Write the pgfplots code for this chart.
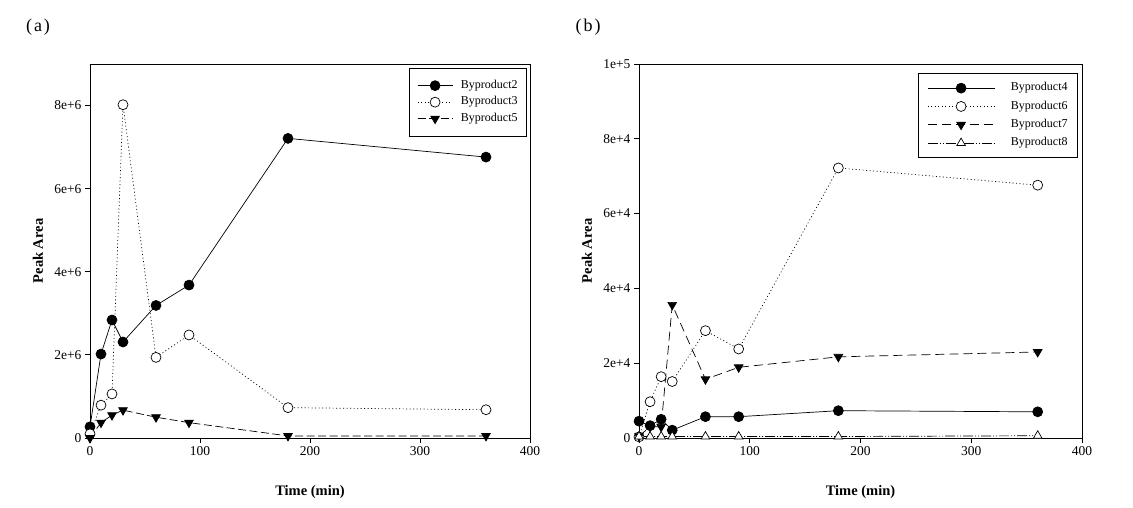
\documentclass[border=0pt]{standalone}
\usepackage{fontspec}
\setmainfont{Liberation Serif}
\usepackage{pgfplots}
\pgfplotsset{compat=1.18}

% common look of both panels
\pgfplotsset{
  panel/.style={
    scale only axis, height=374pt,
    xmin=0, xmax=400, ymin=0,
    axis line style={line width=0.9pt},
    tick align=outside, tick pos=left,
    major tick length=5pt,
    every tick/.style={black, line width=0.9pt},
    xtick={0,100,200,300,400}, xticklabels={0,100,200,300,400},
    tick label style={font=\fontsize{13.5}{15}\selectfont},
    scaled y ticks=false,
    xlabel={\textbf{Time (min)}}, ylabel={\textbf{Peak Area}},
    every axis x label/.style={at={(rel axis cs:0.5,0)}, yshift=-54pt, anchor=center,
      font=\fontsize{14.5}{16}\selectfont},
    every axis y label/.style={at={(rel axis cs:0,0.5)}, xshift=-52pt, rotate=90, anchor=center,
      font=\fontsize{14.5}{16}\selectfont},
    legend cell align=left,
  },
  solidc/.style={black, line width=0.7pt, mark=*, mark size=5pt,
    mark options={solid, fill=black}},
  openc/.style={black, line width=0.7pt, dash pattern=on 1pt off 2.5pt,
    mark=*, mark size=5pt, mark options={solid, fill=white}},
  downtri/.style={black, line width=0.7pt, mark=triangle*, mark size=5pt,
    mark options={solid, fill=black, rotate=180}},
  uptri/.style={black, line width=0.7pt, dash pattern=on 10pt off 2pt on 1pt off 2pt on 1pt off 2pt,
    mark=triangle*, mark size=5pt, mark options={solid, fill=white}},
}

\begin{document}
\begin{tikzpicture}
\useasboundingbox (0,0) rectangle (1133pt,508pt);

\node[font=\fontsize{18}{20}\selectfont] at (38pt,481pt) {(\hspace{2pt}a\hspace{2pt})};
\node[font=\fontsize{18}{20}\selectfont] at (588pt,481pt) {(\hspace{2pt}b\hspace{2pt})};

% ---- (a) ----
\begin{axis}[panel, width=440pt,
    at={(90pt,70pt)}, anchor=south west,
    ymax=9e6,
    ytick={0,2e6,4e6,6e6,8e6}, yticklabels={0,2e+6,4e+6,6e+6,8e+6},
    legend image code/.code={\draw[mark repeat=2,mark phase=2,#1]
      plot coordinates {(0pt,0pt) (17.5pt,0pt) (35pt,0pt)};},
    legend style={at={(rel axis cs:1,1)}, anchor=north east,
      xshift=-3pt, yshift=-4pt, draw=black, line width=0.8pt, fill=white,
      font=\fontsize{12}{14}\selectfont, inner xsep=8pt, inner ysep=11pt,
      row sep=4pt, column sep=7pt,
      nodes={inner sep=1pt, text height=8pt, text depth=2.5pt}},
]
\addplot[solidc] coordinates {
  (0,0.27e6) (10,2.02e6) (20,2.84e6) (30,2.31e6) (60,3.19e6) (90,3.68e6) (180,7.21e6) (360,6.76e6)};
\addlegendentry{Byproduct2}
\addplot[openc] coordinates {
  (0,0.10e6) (10,0.79e6) (20,1.06e6) (30,8.02e6) (60,1.94e6) (90,2.48e6) (180,0.73e6) (360,0.68e6)};
\addlegendentry{Byproduct3}
\addplot[downtri, dash pattern=on 8pt off 3.5pt] coordinates {
  (0,0.0e6) (10,0.37e6) (20,0.55e6) (30,0.67e6) (60,0.50e6) (90,0.37e6) (180,0.05e6) (360,0.05e6)};
\addlegendentry{Byproduct5}
\end{axis}

% ---- (b) ----
\begin{axis}[panel, width=443pt,
    at={(639pt,70pt)}, anchor=south west,
    ymax=1e5,
    ytick={0,2e4,4e4,6e4,8e4,1e5}, yticklabels={0,2e+4,4e+4,6e+4,8e+4,1e+5},
    legend image code/.code={\draw[mark repeat=2,mark phase=2,#1]
      plot coordinates {(0pt,0pt) (33.5pt,0pt) (67pt,0pt)};},
    legend style={at={(rel axis cs:1,1)}, anchor=north east,
      xshift=-4pt, yshift=-9pt, draw=black, line width=0.8pt, fill=white,
      font=\fontsize{12}{14}\selectfont, inner xsep=9pt, inner ysep=8.5pt,
      row sep=5.8pt, column sep=15pt,
      nodes={inner sep=1pt, text height=8pt, text depth=2.5pt}},
]
\addplot[solidc] coordinates {
  (0,4.5e3) (10,3.3e3) (20,5.0e3) (30,2.1e3) (60,5.7e3) (90,5.7e3) (180,7.3e3) (360,7.0e3)};
\addlegendentry{Byproduct4}
\addplot[openc] coordinates {
  (0,0.3e3) (10,9.7e3) (20,16.4e3) (30,15.1e3) (60,28.7e3) (90,23.8e3) (180,72.2e3) (360,67.6e3)};
\addlegendentry{Byproduct6}
\addplot[downtri, dash pattern=on 9pt off 5pt] coordinates {
  (0,0.5e3) (10,3.0e3) (20,3.0e3) (30,35.6e3) (60,15.7e3) (90,18.9e3) (180,21.7e3) (360,23.0e3)};
\addlegendentry{Byproduct7}
\addplot[uptri] coordinates {
  (0,0.4e3) (10,0.4e3) (20,0.4e3) (30,0.4e3) (60,0.4e3) (90,0.4e3) (180,0.4e3) (360,0.6e3)};
\addlegendentry{Byproduct8}
\end{axis}
\end{tikzpicture}
\end{document}
